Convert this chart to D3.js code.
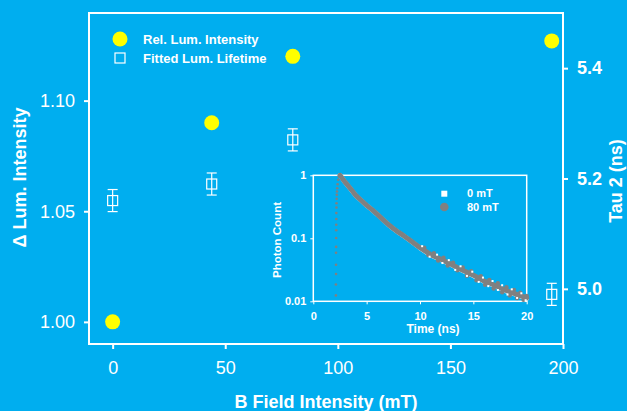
<!DOCTYPE html>
<html>
<head>
<meta charset="utf-8">
<script src="https://cdn.jsdelivr.net/npm/d3@7"></script>
<style>
body{margin:0;background:#00aeef;}
svg{display:block;font-family:"Liberation Sans",Arial,sans-serif;}
</style>
</head>
<body>
<svg width="627" height="411"></svg>
<script>
// main chart data
var fieldLum = [0, 44, 80, 195];
var relLum = [1.000, 1.090, 1.120, 1.127];
var fieldTau = [0, 44, 80, 195];
var tau2 = [5.160, 5.190, 5.270, 4.990];
var tauErr = [0.02, 0.02, 0.02, 0.02];
var fieldTicks = [0, 50, 100, 150, 200];
var lumTicks = [1.00, 1.05, 1.10];
var tauTicks = [5.0, 5.2, 5.4];

// inset: photon count decay
var riseTime = [2.12,2.12,2.13,2.13,2.13,2.14,2.14,2.15,2.15,2.16,2.16,2.17,2.18,2.19,2.20,2.22,2.24,2.28,2.33,2.40];
var riseCount = [0.0124,0.0185,0.027,0.038,0.059,0.073,0.101,0.134,0.164,0.202,0.251,0.308,0.361,0.423,0.489,0.552,0.623,0.72,0.85,0.95];
var decayTime = [2.5,3,3.5,4,4.5,5,5.5,6,6.5,7,7.5,8,8.5,9,9.5,10,11,12,13,14,15,16,17,18,19,20];
var decay80 = [1.0,0.77,0.61,0.475,0.398,0.333,0.285,0.24,0.20,0.167,0.143,0.124,0.109,0.095,0.082,0.071,0.055,0.046,0.038,0.031,0.026,0.021,0.018,0.015,0.013,0.0113];
var decay0 = [1.0,0.765,0.605,0.472,0.396,0.331,0.283,0.239,0.199,0.166,0.142,0.123,0.108,0.094,0.081,0.070,0.054,0.0452,0.0373,0.0305,0.0255,0.0206,0.0177,0.0147,0.0128,0.0111];
var scatter0Time = [10.2,10.9,11.6,12.1,12.7,13.3,13.8,14.4,14.9,15.5,15.9,16.4,16.8,17.3,17.7,18.2,18.6,19.1,19.5,19.9];
var scatter0 = [0.075,0.051,0.055,0.0405,0.045,0.0315,0.036,0.0253,0.0295,0.0203,0.0238,0.0174,0.021,0.0151,0.018,0.0128,0.0155,0.0113,0.0134,0.0104];
var scatter80Time = [10.4,10.8,11.3,11.7,12.2,12.6,13.1,13.5,14.0,14.4,14.8,15.3,15.7,16.1,16.5,16.9,17.3,17.7,18.1,18.4,18.8,19.1,19.4,19.7,20.0];
var scatter80 = [0.071,0.054,0.058,0.0445,0.049,0.037,0.041,0.031,0.0345,0.0254,0.030,0.0216,0.0251,0.0183,0.0218,0.016,0.0194,0.0139,0.0167,0.0124,0.0152,0.0113,0.0137,0.0106,0.0122];
var timeTicks = [0, 5, 10, 15, 20];
var countTicks = [0.01, 0.1, 1];

var svg = d3.select("svg");
var white = "#ffffff";
var gray = "#808080";

var x = d3.scaleLinear().domain([-10.5, 200]).range([89, 563]);
var yL = d3.scaleLinear().domain([0.990, 1.1396]).range([344, 13]);
var yR = d3.scaleLinear().domain([4.90, 5.50]).range([344, 13]);

// frame
svg.append("rect").attr("x", 89).attr("y", 13).attr("width", 474).attr("height", 331)
    .attr("fill", "none").attr("stroke", white).attr("stroke-width", 2);

function styleAxis(g, size, weight) {
    g.select(".domain").remove();
    g.attr("font-family", null).attr("font-size", null);
    g.selectAll("line").attr("stroke", white).attr("stroke-width", 2);
    g.selectAll("text").attr("fill", white).attr("font-size", size).attr("font-weight", weight);
}

var gx = svg.append("g").attr("transform", "translate(0,344)")
    .call(d3.axisBottom(x).tickValues(fieldTicks).tickSize(5).tickPadding(12));
styleAxis(gx, 18, "normal");

var gl = svg.append("g").attr("transform", "translate(89,0)")
    .call(d3.axisLeft(yL).tickValues(lumTicks).tickFormat(d3.format(".2f")).tickSize(5).tickPadding(9));
styleAxis(gl, 18, "normal");

var gr = svg.append("g").attr("transform", "translate(563,0)")
    .call(d3.axisRight(yR).tickValues(tauTicks).tickFormat(d3.format(".1f")).tickSize(5).tickPadding(9));
styleAxis(gr, 18, "bold");

// axis titles
svg.append("text").attr("x", 326).attr("y", 408).attr("text-anchor", "middle")
    .attr("fill", white).attr("font-size", 18).attr("font-weight", "bold").text("B Field Intensity (mT)");
svg.append("text").attr("transform", "translate(26,177.5) rotate(-90)").attr("text-anchor", "middle")
    .attr("fill", white).attr("font-size", 18).attr("font-weight", "bold").text("Δ Lum. Intensity");
svg.append("text").attr("transform", "translate(622,181) rotate(-90)").attr("text-anchor", "middle")
    .attr("fill", white).attr("font-size", 18).attr("font-weight", "bold").text("Tau 2 (ns)");

// lifetime points with error bars
var tauData = fieldTau.map(function(f, i) { return {f: f, t: tau2[i], e: tauErr[i]}; });
var tg = svg.append("g").attr("stroke", white).attr("stroke-width", 1.2).attr("fill", "none");
tauData.forEach(function(d) {
    var cx = x(d.f), top = yR(d.t + d.e), bot = yR(d.t - d.e);
    tg.append("line").attr("x1", cx).attr("x2", cx).attr("y1", top).attr("y2", bot);
    tg.append("line").attr("x1", cx - 5).attr("x2", cx + 5).attr("y1", top).attr("y2", top);
    tg.append("line").attr("x1", cx - 5).attr("x2", cx + 5).attr("y1", bot).attr("y2", bot);
    tg.append("rect").attr("x", cx - 5).attr("y", yR(d.t) - 5).attr("width", 10).attr("height", 10);
});

// luminescence points
svg.append("g").selectAll("circle").data(fieldLum).enter().append("circle")
    .attr("cx", function(d) { return x(d); })
    .attr("cy", function(d, i) { return yL(relLum[i]); })
    .attr("r", 7.5).attr("fill", "#ffff00");

// legend
svg.append("circle").attr("cx", 120).attr("cy", 39).attr("r", 7.5).attr("fill", "#ffff00");
svg.append("rect").attr("x", 115).attr("y", 53).attr("width", 10).attr("height", 10)
    .attr("fill", "none").attr("stroke", white).attr("stroke-width", 1.2);
svg.append("text").attr("x", 143).attr("y", 43.5).attr("fill", white).attr("font-size", 13)
    .attr("font-weight", "bold").text("Rel. Lum. Intensity");
svg.append("text").attr("x", 143).attr("y", 62.5).attr("fill", white).attr("font-size", 13)
    .attr("font-weight", "bold").text("Fitted Lum. Lifetime");

// ---- inset ----
var ix = d3.scaleLinear().domain([0, 20]).range([313.3, 526.7]);
var iy = d3.scaleLog().domain([0.01, 1]).range([301.3, 175.3]);

svg.append("rect").attr("x", 313.3).attr("y", 175.3).attr("width", 213.4).attr("height", 126)
    .attr("fill", "none").attr("stroke", white).attr("stroke-width", 1.5);

var ig = svg.append("g");
var line = d3.line().x(function(d) { return ix(d[0]); }).y(function(d) { return iy(d[1]); });

ig.append("path").datum(decayTime.map(function(t, i) { return [t, decay0[i]]; }))
    .attr("d", line).attr("fill", "none").attr("stroke", white).attr("stroke-width", 4.5)
    .attr("stroke-linecap", "round").attr("stroke-linejoin", "round");
ig.append("path").datum(decayTime.map(function(t, i) { return [t, decay80[i]]; }))
    .attr("d", line).attr("fill", "none").attr("stroke", gray).attr("stroke-width", 5)
    .attr("stroke-linecap", "round").attr("stroke-linejoin", "round");
ig.selectAll(".rise").data(riseTime).enter().append("circle").attr("class", "rise")
    .attr("cx", function(d) { return ix(d); })
    .attr("cy", function(d, i) { return iy(riseCount[i]); })
    .attr("r", 1.3).attr("fill", gray);
ig.selectAll(".s80").data(scatter80Time).enter().append("circle").attr("class", "s80")
    .attr("cx", function(d) { return ix(d); })
    .attr("cy", function(d, i) { return iy(scatter80[i]); })
    .attr("r", 2.2).attr("fill", gray);
ig.selectAll(".s0").data(scatter0Time).enter().append("rect").attr("class", "s0")
    .attr("x", function(d) { return ix(d) - 1; })
    .attr("y", function(d, i) { return iy(scatter0[i]) - 1; })
    .attr("width", 2).attr("height", 2).attr("fill", white);

var gix = svg.append("g").attr("transform", "translate(0,301.3)")
    .call(d3.axisBottom(ix).tickValues(timeTicks).tickSize(3).tickPadding(8));
styleAxis(gix, 11, "bold");
gix.selectAll("line").attr("stroke-width", 1);

var giy = svg.append("g").attr("transform", "translate(313.3,0)")
    .call(d3.axisLeft(iy).tickValues(countTicks).tickFormat(function(d) { return String(d); }).tickSize(3).tickPadding(4));
styleAxis(giy, 11, "bold");
giy.selectAll("line").attr("stroke-width", 1);

svg.append("text").attr("x", 433).attr("y", 333).attr("text-anchor", "middle")
    .attr("fill", white).attr("font-size", 12).attr("font-weight", "bold").text("Time (ns)");
svg.append("text").attr("transform", "translate(281,240) rotate(-90)").attr("text-anchor", "middle")
    .attr("fill", white).attr("font-size", 11.5).attr("font-weight", "bold").text("Photon Count");

// inset legend
svg.append("rect").attr("x", 441.3).attr("y", 190.7).attr("width", 6).attr("height", 6).attr("fill", white);
svg.append("circle").attr("cx", 444.3).attr("cy", 207).attr("r", 4.3).attr("fill", gray);
svg.append("text").attr("x", 467).attr("y", 197).attr("fill", white).attr("font-size", 11)
    .attr("font-weight", "bold").text("0 mT");
svg.append("text").attr("x", 467).attr("y", 211).attr("fill", white).attr("font-size", 11)
    .attr("font-weight", "bold").text("80 mT");
</script>
</body>
</html>
